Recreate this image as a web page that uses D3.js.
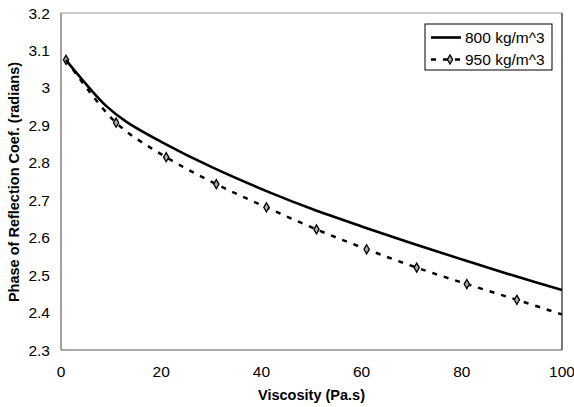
<!DOCTYPE html>
<html>
<head>
<meta charset="utf-8">
<script src="https://cdn.jsdelivr.net/npm/d3@7"></script>
<style>
  body { margin: 0; background: #fff; }
  svg text { font-family: "Liberation Sans", Arial, sans-serif; fill: #000; }
</style>
</head>
<body>
<div id="chart"></div>
<script>
// values
var visc800  = [1, 5, 9, 13, 20, 30, 42, 50, 60, 70, 80, 90, 100];
var phase800 = [3.074, 3.010, 2.952, 2.910, 2.856, 2.789, 2.719, 2.677, 2.630, 2.585, 2.542, 2.500, 2.460];
var visc950  = [1, 11, 21, 31, 41, 51, 61, 71, 81, 91, 100];
var phase950 = [3.075, 2.907, 2.815, 2.743, 2.681, 2.622, 2.569, 2.520, 2.476, 2.434, 2.395];
var xTicks = [0, 20, 40, 60, 80, 100];
var yTicks = [2.3, 2.4, 2.5, 2.6, 2.7, 2.8, 2.9, 3, 3.1, 3.2];
var seriesNames = ["800 kg/m^3", "950 kg/m^3"];

var width = 574, height = 407;
var plotL = 61, plotR = 562, plotT = 13, plotB = 350;

var svg = d3.select("#chart").append("svg")
    .attr("width", width)
    .attr("height", height);

var x = d3.scaleLinear().domain([0, 100]).range([plotL, plotR]);
var y = d3.scaleLinear().domain([2.3, 3.2]).range([plotB, plotT]);

// frame of the plot area
svg.append("line").attr("x1", plotL).attr("x2", plotR).attr("y1", plotT).attr("y2", plotT)
    .attr("stroke", "#999").attr("stroke-width", 1);
svg.append("line").attr("x1", plotR).attr("x2", plotR).attr("y1", plotT).attr("y2", plotB)
    .attr("stroke", "#222").attr("stroke-width", 1.2);
svg.append("line").attr("x1", plotL).attr("x2", plotL).attr("y1", plotT).attr("y2", plotB)
    .attr("stroke", "#444").attr("stroke-width", 1);
svg.append("line").attr("x1", plotL).attr("x2", plotR).attr("y1", plotB).attr("y2", plotB)
    .attr("stroke", "#555").attr("stroke-width", 1);

// tick labels
svg.append("g").selectAll("text").data(yTicks).enter().append("text")
    .attr("x", 50)
    .attr("y", function(d){ return y(d) + 5.5; })
    .attr("text-anchor", "end")
    .style("font-size", "15.5px")
    .text(function(d){ return +d.toFixed(1); });

svg.append("g").selectAll("text").data(xTicks).enter().append("text")
    .attr("x", function(d){ return x(d); })
    .attr("y", 377)
    .attr("text-anchor", "middle")
    .style("font-size", "15.5px")
    .text(function(d){ return d; });

// axis titles
svg.append("text")
    .attr("x", (plotL + plotR) / 2)
    .attr("y", 400)
    .attr("text-anchor", "middle")
    .style("font-size", "14.5px")
    .style("font-weight", "bold")
    .text("Viscosity (Pa.s)");

svg.append("text")
    .attr("transform", "translate(19,182) rotate(-90)")
    .attr("text-anchor", "middle")
    .style("font-size", "14.5px")
    .style("font-weight", "bold")
    .text("Phase of Reflection Coef. (radians)");

// series
var line = d3.line()
    .x(function(d){ return x(d[0]); })
    .y(function(d){ return y(d[1]); })
    .curve(d3.curveCatmullRom.alpha(0.5));

var data800 = d3.zip(visc800, phase800);
var data950 = d3.zip(visc950, phase950);

svg.append("path")
    .datum(data950)
    .attr("d", line)
    .attr("fill", "none")
    .attr("stroke", "#000")
    .attr("stroke-width", 2.5)
    .attr("stroke-dasharray", "5,7");

var diamond = d3.symbol().type(d3.symbolDiamond).size(24);
svg.append("g").selectAll("path").data(data950.slice(0, data950.length - 1)).enter().append("path")
    .attr("d", diamond)
    .attr("transform", function(d){ return "translate(" + x(d[0]) + "," + y(d[1]) + ")"; })
    .attr("fill", "#aaa")
    .attr("stroke", "#000")
    .attr("stroke-width", 1.3);

svg.append("path")
    .datum(data800)
    .attr("d", line)
    .attr("fill", "none")
    .attr("stroke", "#000")
    .attr("stroke-width", 2.6);

// legend
var lg = svg.append("g").attr("transform", "translate(425,24)");
lg.append("rect")
    .attr("width", 127).attr("height", 46)
    .attr("fill", "#fff")
    .attr("stroke", "#000")
    .attr("stroke-width", 1);

lg.append("line").attr("x1", 6).attr("x2", 36).attr("y1", 13.5).attr("y2", 13.5)
    .attr("stroke", "#000").attr("stroke-width", 2.6);
lg.append("line").attr("x1", 6).attr("x2", 36).attr("y1", 35.5).attr("y2", 35.5)
    .attr("stroke", "#000").attr("stroke-width", 2.5).attr("stroke-dasharray", "5,7");
lg.append("path").attr("d", diamond)
    .attr("transform", "translate(25,35.5)")
    .attr("fill", "#aaa").attr("stroke", "#000").attr("stroke-width", 1.3);

lg.selectAll("text.leg").data(seriesNames).enter().append("text")
    .attr("class", "leg")
    .attr("x", 40)
    .attr("y", function(d, i){ return 19 + i * 22; })
    .style("font-size", "15.5px")
    .text(function(d){ return d; });
</script>
</body>
</html>
